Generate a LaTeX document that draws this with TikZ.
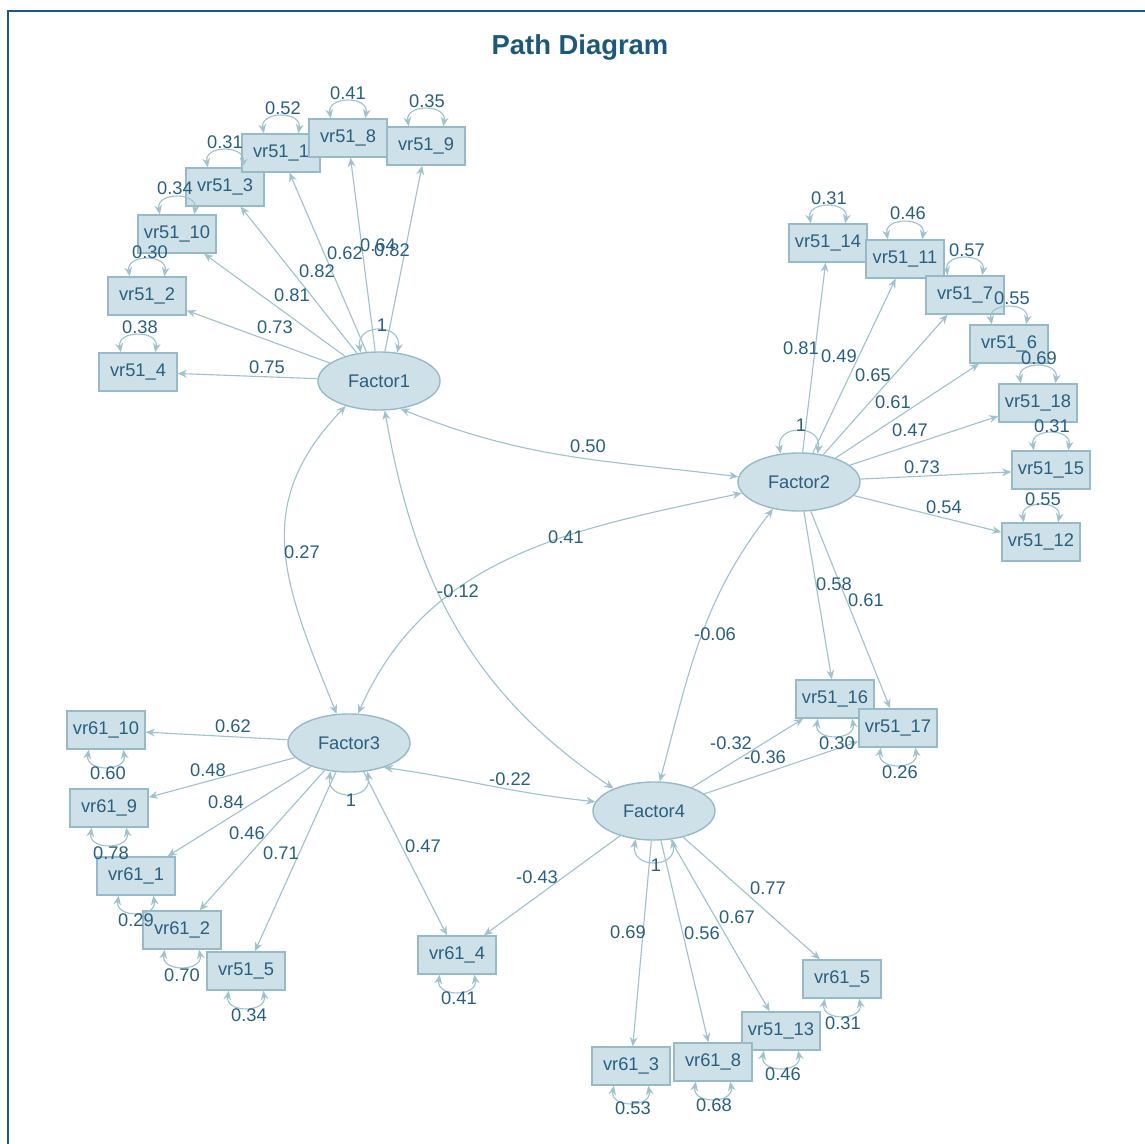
\documentclass[tikz,border=0pt]{standalone}
\usepackage{fontspec}
\setmainfont{Liberation Sans}
\usetikzlibrary{shapes,arrows.meta}

\definecolor{boxfill}{RGB}{207,225,232}
\definecolor{boxline}{RGB}{150,186,201}
\definecolor{edgecol}{RGB}{160,193,206}
\definecolor{textcol}{RGB}{40,95,128}
\definecolor{titlecol}{RGB}{27,88,122}
\definecolor{framecol}{RGB}{25,92,130}

\tikzset{
	manifest/.style={rectangle, draw=boxline, fill=boxfill, text=textcol, line width=1pt, minimum width=1.95cm, minimum height=0.95cm, inner sep=0pt, font=\fontsize{13}{15}\selectfont},
	latent/.style={ellipse, draw=boxline, fill=boxfill, text=textcol, line width=1pt, minimum width=3.05cm, minimum height=1.45cm, inner sep=0pt, font=\fontsize{13}{15}\selectfont},
	lab/.style={text=textcol, inner sep=0pt, font=\fontsize{13}{15}\selectfont},
	heading/.style={text=titlecol, inner sep=0pt, font=\bfseries\fontsize{19.5}{22}\selectfont},
	load/.style={draw=edgecol, line width=0.8pt, -{Stealth[length=6.5pt,width=5.5pt]}},
	cov/.style={draw=edgecol, line width=0.8pt, {Stealth[length=6.5pt,width=5.5pt]}-{Stealth[length=6.5pt,width=5.5pt]}},
	archup/.style={out=100,in=80,looseness=1.7},
	archdn/.style={out=-100,in=-80,looseness=1.7}
}

\begin{document}
\begin{tikzpicture}[x=0.025cm,y=-0.025cm]
	\useasboundingbox (0,0) rectangle (1145,1144);
	\draw[framecol, line width=1.5pt] (8,1144) -- (8,11) -- (1145,11);
	\node[heading] (title) at (580,47) {Path Diagram};

	\node[latent] (f1) at (379,381) {Factor1};
	\node[latent] (f2) at (799,482) {Factor2};
	\node[latent] (f3) at (349,743) {Factor3};
	\node[latent] (f4) at (654,811) {Factor4};

	\node[manifest] (vr51-4) at (138,372) {vr51\_4};
	\node[manifest] (vr51-2) at (147,296) {vr51\_2};
	\node[manifest] (vr51-10) at (177,234) {vr51\_10};
	\node[manifest] (vr51-3) at (225,187) {vr51\_3};
	\node[manifest] (vr51-1) at (281,153) {vr51\_1};
	\node[manifest] (vr51-8) at (348,138) {vr51\_8};
	\node[manifest] (vr51-9) at (426,146) {vr51\_9};

	\node[manifest] (vr51-14) at (828,243) {vr51\_14};
	\node[manifest] (vr51-11) at (905,259) {vr51\_11};
	\node[manifest] (vr51-7) at (965,295) {vr51\_7};
	\node[manifest] (vr51-6) at (1009,344) {vr51\_6};
	\node[manifest] (vr51-18) at (1038,403) {vr51\_18};
	\node[manifest] (vr51-15) at (1051,470) {vr51\_15};
	\node[manifest] (vr51-12) at (1041,542) {vr51\_12};
	\node[manifest] (vr51-16) at (835,699) {vr51\_16};
	\node[manifest] (vr51-17) at (898,728) {vr51\_17};

	\node[manifest] (vr61-10) at (106,730) {vr61\_10};
	\node[manifest] (vr61-9) at (109,808) {vr61\_9};
	\node[manifest] (vr61-1) at (136,876) {vr61\_1};
	\node[manifest] (vr61-2) at (182,930) {vr61\_2};
	\node[manifest] (vr51-5) at (246,971) {vr51\_5};
	\node[manifest] (vr61-4) at (457,955) {vr61\_4};

	\node[manifest] (vr61-5) at (842,979) {vr61\_5};
	\node[manifest] (vr51-13) at (781,1031) {vr51\_13};
	\node[manifest] (vr61-3) at (631,1066) {vr61\_3};
	\node[manifest] (vr61-8) at (713,1062) {vr61\_8};

	\draw[load] (f1) -- (vr51-4);
	\draw[load] (f1) -- (vr51-2);
	\draw[load] (f1) -- (vr51-10);
	\draw[load] (f1) -- (vr51-3);
	\draw[load] (f1) -- (vr51-1);
	\draw[load] (f1) -- (vr51-8);
	\draw[load] (f1) -- (vr51-9);

	\draw[load] (f2) -- (vr51-14);
	\draw[load] (f2) -- (vr51-11);
	\draw[load] (f2) -- (vr51-7);
	\draw[load] (f2) -- (vr51-6);
	\draw[load] (f2) -- (vr51-18);
	\draw[load] (f2) -- (vr51-15);
	\draw[load] (f2) -- (vr51-12);
	\draw[load] (f2) -- (vr51-16);
	\draw[load] (f2) -- (vr51-17);

	\draw[load] (f3) -- (vr61-10);
	\draw[load] (f3) -- (vr61-9);
	\draw[load] (f3) -- (vr61-1);
	\draw[load] (f3) -- (vr61-2);
	\draw[load] (f3) -- (vr51-5);
	\draw[load] (f3) -- (vr61-4);

	\draw[load] (f4) -- (vr61-4);
	\draw[load] (f4) -- (vr51-16);
	\draw[load] (f4) -- (vr51-17);
	\draw[load] (f4) -- (vr61-3);
	\draw[load] (f4) -- (vr61-8);
	\draw[load] (f4) -- (vr51-13);
	\draw[load] (f4) -- (vr61-5);

	\draw[cov] (f1.-52) to[out=-22,in=173] (f2.175);
	\draw[cov] (f1.-143) to[out=-134,in=112,looseness=1.15] (f3.113);
	\draw[cov] (f1.-79) to[out=-80,in=146] (f4.151);
	\draw[cov] (f3.73) to[out=66,in=192] (f2.191);
	\draw[cov] (f2.-134) to[out=-128,in=75] (f4.79);
	\draw[cov] (f3.-35) to[out=-8,in=174] (f4.171);

	\draw[cov] (f1.123) to[archup,looseness=2.1] (f1.57);
	\draw[cov] (f2.123) to[archup,looseness=2.1] (f2.57);
	\draw[cov] (f3.-123) to[archdn,looseness=2.1] (f3.-57);
	\draw[cov] (f4.-123) to[archdn,looseness=2.1] (f4.-57);

	\draw[cov] ([xshift=-0.43cm]vr51-4.north) to[archup] ([xshift=0.43cm]vr51-4.north);
	\draw[cov] ([xshift=-0.43cm]vr51-2.north) to[archup] ([xshift=0.43cm]vr51-2.north);
	\draw[cov] ([xshift=-0.43cm]vr51-10.north) to[archup] ([xshift=0.43cm]vr51-10.north);
	\draw[cov] ([xshift=-0.43cm]vr51-3.north) to[archup] ([xshift=0.43cm]vr51-3.north);
	\draw[cov] ([xshift=-0.43cm]vr51-1.north) to[archup] ([xshift=0.43cm]vr51-1.north);
	\draw[cov] ([xshift=-0.43cm]vr51-8.north) to[archup] ([xshift=0.43cm]vr51-8.north);
	\draw[cov] ([xshift=-0.43cm]vr51-9.north) to[archup] ([xshift=0.43cm]vr51-9.north);
	\draw[cov] ([xshift=-0.43cm]vr51-14.north) to[archup] ([xshift=0.43cm]vr51-14.north);
	\draw[cov] ([xshift=-0.43cm]vr51-11.north) to[archup] ([xshift=0.43cm]vr51-11.north);
	\draw[cov] ([xshift=-0.43cm]vr51-7.north) to[archup] ([xshift=0.43cm]vr51-7.north);
	\draw[cov] ([xshift=-0.43cm]vr51-6.north) to[archup] ([xshift=0.43cm]vr51-6.north);
	\draw[cov] ([xshift=-0.43cm]vr51-18.north) to[archup] ([xshift=0.43cm]vr51-18.north);
	\draw[cov] ([xshift=-0.43cm]vr51-15.north) to[archup] ([xshift=0.43cm]vr51-15.north);
	\draw[cov] ([xshift=-0.43cm]vr51-12.north) to[archup] ([xshift=0.43cm]vr51-12.north);
	\draw[cov] ([xshift=-0.43cm]vr51-16.south) to[archdn] ([xshift=0.43cm]vr51-16.south);
	\draw[cov] ([xshift=-0.43cm]vr51-17.south) to[archdn] ([xshift=0.43cm]vr51-17.south);
	\draw[cov] ([xshift=-0.43cm]vr61-10.south) to[archdn] ([xshift=0.43cm]vr61-10.south);
	\draw[cov] ([xshift=-0.43cm]vr61-9.south) to[archdn] ([xshift=0.43cm]vr61-9.south);
	\draw[cov] ([xshift=-0.43cm]vr61-1.south) to[archdn] ([xshift=0.43cm]vr61-1.south);
	\draw[cov] ([xshift=-0.43cm]vr61-2.south) to[archdn] ([xshift=0.43cm]vr61-2.south);
	\draw[cov] ([xshift=-0.43cm]vr51-5.south) to[archdn] ([xshift=0.43cm]vr51-5.south);
	\draw[cov] ([xshift=-0.43cm]vr61-4.south) to[archdn] ([xshift=0.43cm]vr61-4.south);
	\draw[cov] ([xshift=-0.43cm]vr61-5.south) to[archdn] ([xshift=0.43cm]vr61-5.south);
	\draw[cov] ([xshift=-0.43cm]vr51-13.south) to[archdn] ([xshift=0.43cm]vr51-13.south);
	\draw[cov] ([xshift=-0.43cm]vr61-8.south) to[archdn] ([xshift=0.43cm]vr61-8.south);
	\draw[cov] ([xshift=-0.43cm]vr61-3.south) to[archdn] ([xshift=0.43cm]vr61-3.south);

	\node[lab] (rf1) at (382,325) {1};
	\node[lab] (rf2) at (801,425) {1};
	\node[lab] (rf3) at (351,800) {1};
	\node[lab] (rf4) at (656,865) {1};

	\node[lab] (r51-4) at (140,327) {0.38};
	\node[lab] (r51-2) at (150,252) {0.30};
	\node[lab] (r51-10) at (175,188) {0.34};
	\node[lab] (r51-3) at (225,142) {0.31};
	\node[lab] (r51-1) at (283,108) {0.52};
	\node[lab] (r51-8) at (348,93) {0.41};
	\node[lab] (r51-9) at (427,101) {0.35};
	\node[lab] (r51-14) at (829,198) {0.31};
	\node[lab] (r51-11) at (908,213) {0.46};
	\node[lab] (r51-7) at (967,250) {0.57};
	\node[lab] (r51-6) at (1012,298) {0.55};
	\node[lab] (r51-18) at (1039,358) {0.69};
	\node[lab] (r51-15) at (1052,426) {0.31};
	\node[lab] (r51-12) at (1043,499) {0.55};
	\node[lab] (r51-16) at (837,743) {0.30};
	\node[lab] (r51-17) at (900,772) {0.26};
	\node[lab] (r61-10) at (108,773) {0.60};
	\node[lab] (r61-9) at (111,853) {0.78};
	\node[lab] (r61-1) at (136,920) {0.29};
	\node[lab] (r61-2) at (182,975) {0.70};
	\node[lab] (r51-5) at (249,1015) {0.34};
	\node[lab] (r61-4) at (459,998) {0.41};
	\node[lab] (r61-5) at (843,1023) {0.31};
	\node[lab] (r51-13) at (783,1074) {0.46};
	\node[lab] (r61-8) at (714,1105) {0.68};
	\node[lab] (r61-3) at (633,1108) {0.53};

	\node[lab] (e51-4) at (267,367) {0.75};
	\node[lab] (e51-2) at (275,327) {0.73};
	\node[lab] (e51-10) at (292,295) {0.81};
	\node[lab] (e51-3) at (317,271) {0.82};
	\node[lab] (e51-1) at (345,253) {0.62};
	\node[lab] (e51-8) at (378,245) {0.64};
	\node[lab] (e51-9) at (392,250) {0.82};
	\node[lab] (e51-14) at (801,348) {0.81};
	\node[lab] (e51-11) at (839,356) {0.49};
	\node[lab] (e51-7) at (873,375) {0.65};
	\node[lab] (e51-6) at (893,402) {0.61};
	\node[lab] (e51-18) at (910,430) {0.47};
	\node[lab] (e51-15) at (922,467) {0.73};
	\node[lab] (e51-12) at (944,507) {0.54};
	\node[lab] (e51-16) at (834,584) {0.58};
	\node[lab] (e51-17) at (866,600) {0.61};
	\node[lab] (e61-10) at (233,726) {0.62};
	\node[lab] (e61-9) at (208,770) {0.48};
	\node[lab] (e61-1) at (226,802) {0.84};
	\node[lab] (e61-2) at (247,833) {0.46};
	\node[lab] (e51-5) at (281,853) {0.71};
	\node[lab] (e61-4) at (423,846) {0.47};
	\node[lab] (e61-4b) at (537,877) {-0.43};
	\node[lab] (e51-16b) at (731,743) {-0.32};
	\node[lab] (e51-17b) at (765,757) {-0.36};
	\node[lab] (e61-3) at (628,932) {0.69};
	\node[lab] (e61-8) at (702,933) {0.56};
	\node[lab] (e51-13) at (737,917) {0.67};
	\node[lab] (e61-5) at (768,888) {0.77};

	\node[lab] (c12) at (588,446) {0.50};
	\node[lab] (c13) at (302,552) {0.27};
	\node[lab] (c14) at (458,591) {-0.12};
	\node[lab] (c23) at (566,537) {0.41};
	\node[lab] (c24) at (715,634) {-0.06};
	\node[lab] (c34) at (510,779) {-0.22};
\end{tikzpicture}
\end{document}
